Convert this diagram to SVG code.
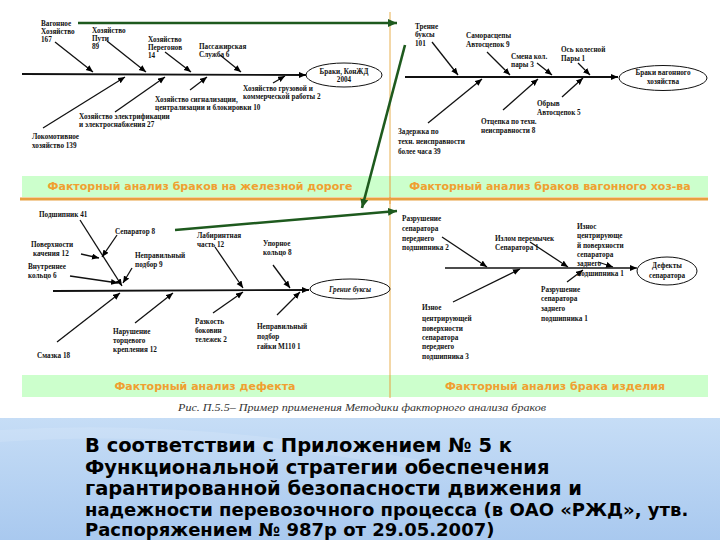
<svg xmlns="http://www.w3.org/2000/svg" width="720" height="540" viewBox="0 0 720 540">
<defs>
<linearGradient id="blue" x1="0" y1="0" x2="0" y2="1">
<stop offset="0" stop-color="#c6ddf6"/>
<stop offset="1" stop-color="#a9c9ef"/>
</linearGradient>
<marker id="ah" markerUnits="userSpaceOnUse" markerWidth="8" markerHeight="7" refX="7" refY="3" orient="auto">
<path d="M0,0 L7,3 L0,6 z" fill="#000"/>
</marker>
<marker id="gh" markerUnits="userSpaceOnUse" markerWidth="10" markerHeight="9" refX="9" refY="4" orient="auto">
<path d="M0,0 L9,4 L0,8 z" fill="#1e5a1e"/>
</marker>
</defs>
<style>
.lb{font-family:"Liberation Serif",serif;font-size:7.2px;font-weight:bold;fill:#111}
.el{font-family:"Liberation Serif",serif;font-size:7.2px;font-weight:bold;fill:#111;text-anchor:middle}
.ln{stroke:#111;stroke-width:1.3;fill:none;marker-end:url(#ah)}
.sp{stroke:#111;stroke-width:1.8;fill:none;marker-end:url(#ah)}
.spn{stroke:#111;stroke-width:1.4;fill:none}
.ov{fill:#fff;stroke:#111;stroke-width:1}
.gl{stroke:#1e5a1e;stroke-width:2.6;fill:none;marker-end:url(#gh)}
.band{fill:#ccffcc}
.bt{font-family:"DejaVu Sans",sans-serif;font-weight:bold;font-size:11px;fill:#f0a030;text-anchor:middle}
.big{font-family:"DejaVu Sans",sans-serif;font-weight:bold;fill:#000}
</style>
<rect x="0" y="0" width="720" height="540" fill="#fff"/>
<rect x="0" y="418" width="720" height="122" fill="url(#blue)"/>
<path d="M0,430 Q200,418 420,460 L420,470 Q200,428 0,442 z" fill="#fff" opacity="0.12"/>

<!-- frame lines -->
<line x1="390" y1="12" x2="390" y2="398" stroke="#e8b050" stroke-width="1"/>
<rect class="band" x="22" y="176" width="686" height="21"/>
<line x1="20" y1="199" x2="708" y2="199" stroke="#e8a040" stroke-width="3"/>
<line x1="390" y1="176" x2="390" y2="204" stroke="#e8a040" stroke-width="1"/>
<text class="bt" x="200" y="190">Факторный анализ браков на железной дороге</text>
<text class="bt" x="550" y="190">Факторный анализ браков вагонного хоз-ва</text>
<rect class="band" x="22" y="375" width="686" height="22"/>
<line x1="390" y1="375" x2="390" y2="397" stroke="#e8a040" stroke-width="1"/>
<text class="bt" x="205" y="390">Факторный анализ дефекта</text>
<text class="bt" x="555" y="390">Факторный анализ брака изделия</text>
<text x="362" y="411" font-family="Liberation Serif, serif" font-style="italic" font-size="10px" fill="#333" text-anchor="middle" textLength="368" lengthAdjust="spacingAndGlyphs">Рис. П.5.5– Пример применения Методики факторного анализа браков</text>

<!-- connectors -->
<g id="connectors">
<!-- top-left -->
<line class="sp" x1="22" y1="74" x2="306" y2="75"/>
<line class="ln" x1="55" y1="42" x2="93" y2="72"/>
<line class="ln" x1="107" y1="41" x2="146" y2="72"/>
<line class="ln" x1="165" y1="52" x2="191" y2="72"/>
<line class="ln" x1="220" y1="55" x2="241" y2="72"/>
<line class="ln" x1="43" y1="128" x2="125" y2="77"/>
<line class="ln" x1="115" y1="112" x2="165" y2="77"/>
<line class="ln" x1="190" y1="90" x2="207" y2="77"/>
<line class="ln" x1="273" y1="83" x2="285" y2="76"/>
<!-- top-right -->
<line class="sp" x1="405" y1="77" x2="618" y2="77"/>
<line class="ln" x1="432" y1="42" x2="458" y2="75"/>
<line class="ln" x1="487" y1="52" x2="510" y2="75"/>
<line class="ln" x1="537" y1="63" x2="552" y2="75"/>
<line class="ln" x1="578" y1="63" x2="590" y2="75"/>
<line class="ln" x1="428" y1="123" x2="482" y2="79"/>
<line class="ln" x1="503" y1="110" x2="538" y2="79"/>
<line class="ln" x1="562" y1="97" x2="583" y2="78"/>
<!-- bottom-left -->
<line class="sp" x1="53" y1="291" x2="309" y2="290"/>
<line class="ln" x1="80" y1="220" x2="122" y2="286"/>
<line class="ln" x1="117" y1="235" x2="102" y2="257"/>
<line class="ln" x1="81" y1="254" x2="99" y2="258"/>
<line class="ln" x1="70" y1="276" x2="118" y2="283"/>
<line class="ln" x1="132" y1="268" x2="123" y2="283"/>
<line class="ln" x1="215" y1="247" x2="243" y2="288"/>
<line class="ln" x1="273" y1="265" x2="290" y2="288"/>
<line class="ln" x1="57" y1="342" x2="120" y2="293"/>
<line class="ln" x1="135" y1="323" x2="173" y2="293"/>
<line class="ln" x1="213" y1="313" x2="243" y2="292"/>
<line class="ln" x1="277" y1="315" x2="300" y2="292"/>
<!-- bottom-right -->
<line class="spn" x1="445" y1="268" x2="630" y2="268"/>
<line class="ln" x1="630" y1="268" x2="637" y2="268"/>
<line class="ln" x1="442" y1="237" x2="487" y2="267"/>
<line class="ln" x1="530" y1="242" x2="568" y2="267"/>
<line class="ln" x1="598" y1="262" x2="613" y2="267"/>
<line class="ln" x1="453" y1="302" x2="520" y2="269"/>
<line class="ln" x1="567" y1="282" x2="583" y2="270"/>
<!-- green links -->
<line class="gl" x1="78" y1="23" x2="397" y2="23"/>
<line class="gl" x1="405" y1="45" x2="362" y2="208"/>
<line class="gl" x1="175" y1="230" x2="397" y2="211"/>
</g>

<!-- top-left panel -->
<g id="effect-tl"><ellipse class="ov" cx="344" cy="75" rx="38" ry="12"/><text class="el" x="344" y="74">Браки, КонЖД</text><text class="el" x="344" y="82">2004</text></g>
<g id="n-vagon"><text class="lb" x="41" y="26">Вагонное</text><text class="lb" x="41" y="34">Хозяйство</text><text class="lb" x="41" y="42">167</text></g>
<g id="n-put"><text class="lb" x="92" y="33">Хозяйство</text><text class="lb" x="92" y="41">Пути</text><text class="lb" x="92" y="49">89</text></g>
<g id="n-pereg"><text class="lb" x="148" y="42">Хозяйство</text><text class="lb" x="148" y="50">Перегонов</text><text class="lb" x="148" y="58">14</text></g>
<g id="n-pass"><text class="lb" x="199" y="49">Пассажирская</text><text class="lb" x="199" y="57">Служба 6</text></g>
<g id="n-lok"><text class="lb" x="32" y="139">Локомотивное</text><text class="lb" x="32" y="148">хозяйство 139</text></g>
<g id="n-elektr"><text class="lb" x="79" y="119">Хозяйство электрификации</text><text class="lb" x="79" y="127">и электроснабжения 27</text></g>
<g id="n-signal"><text class="lb" x="155" y="102">Хозяйство сигнализации,</text><text class="lb" x="155" y="110">централизации и блокировки 10</text></g>
<g id="n-gruz"><text class="lb" x="243" y="91">Хозяйство грузовой и</text><text class="lb" x="243" y="99">коммерческой работы 2</text></g>

<!-- top-right panel -->
<g id="effect-tr"><ellipse class="ov" cx="663" cy="78" rx="44" ry="12.5"/><text class="el" x="663" y="75">Браки вагонного</text><text class="el" x="663" y="84">хозяйства</text></g>
<g id="n-tren"><text class="lb" x="415" y="29">Тренне</text><text class="lb" x="415" y="37">буксы</text><text class="lb" x="415" y="46">101</text></g>
<g id="n-samor"><text class="lb" x="466" y="38">Саморасцепы</text><text class="lb" x="466" y="47">Автосцепок 9</text></g>
<g id="n-smena"><text class="lb" x="511" y="59">Смена кол.</text><text class="lb" x="511" y="67">пары 3</text></g>
<g id="n-os"><text class="lb" x="561" y="52">Ось колесной</text><text class="lb" x="561" y="61">Пары 1</text></g>
<g id="n-zader"><text class="lb" x="398" y="134">Задержка по</text><text class="lb" x="398" y="144">техн. неисправности</text><text class="lb" x="398" y="154">более часа 39</text></g>
<g id="n-otcep"><text class="lb" x="481" y="124">Отцепка по техн.</text><text class="lb" x="481" y="133">неисправности 8</text></g>
<g id="n-obryv"><text class="lb" x="537" y="106">Обрыв</text><text class="lb" x="537" y="115">Автосцепок 5</text></g>

<!-- bottom-left panel -->
<g id="effect-bl"><ellipse class="ov" cx="350" cy="289" rx="40" ry="10"/><text class="el" x="350" y="292" font-style="italic">Грение буксы</text></g>
<g id="n-podsh"><text class="lb" x="39" y="217">Подшипник 41</text></g>
<g id="n-separ"><text class="lb" x="115" y="234">Сепаратор 8</text></g>
<g id="n-pov"><text class="lb" x="31" y="247">Поверхности</text><text class="lb" x="33" y="256">качения 12</text></g>
<g id="n-vnutr"><text class="lb" x="28" y="269">Внутреннее</text><text class="lb" x="28" y="278">кольцо 6</text></g>
<g id="n-nepr9"><text class="lb" x="135" y="258">Неправильный</text><text class="lb" x="135" y="267">подбор 9</text></g>
<g id="n-labir"><text class="lb" x="197" y="238">Лабиринтная</text><text class="lb" x="197" y="247">часть 12</text></g>
<g id="n-upor"><text class="lb" x="263" y="246">Упорное</text><text class="lb" x="263" y="255">кольцо 8</text></g>
<g id="n-smazka"><text class="lb" x="37" y="358">Смазка 18</text></g>
<g id="n-narush"><text class="lb" x="113" y="334">Нарушение</text><text class="lb" x="113" y="343">торцевого</text><text class="lb" x="113" y="352">крепления 12</text></g>
<g id="n-razk"><text class="lb" x="195" y="324">Разкость</text><text class="lb" x="195" y="333">боковин</text><text class="lb" x="195" y="342">тележек 2</text></g>
<g id="n-gaiki"><text class="lb" x="257" y="329">Неправильный</text><text class="lb" x="257" y="339">подбор</text><text class="lb" x="257" y="349">гайки М110 1</text></g>

<!-- bottom-right panel -->
<g id="effect-br"><ellipse class="ov" cx="667" cy="271" rx="30" ry="14"/><text class="el" x="667" y="268">Дефекты</text><text class="el" x="667" y="278">сепаратора</text></g>
<g id="n-razr2"><text class="lb" x="402" y="221">Разрушение</text><text class="lb" x="402" y="231">сепаратора</text><text class="lb" x="402" y="241">переднего</text><text class="lb" x="402" y="250">подшипника 2</text></g>
<g id="n-izlom"><text class="lb" x="495" y="241">Излом перемычек</text><text class="lb" x="495" y="250">Сепаратора 1</text></g>
<g id="n-iznos1"><text class="lb" x="577" y="229">Износ</text><text class="lb" x="577" y="238">центрирующе</text><text class="lb" x="577" y="248">й поверхности</text><text class="lb" x="577" y="257">сепаратора</text><text class="lb" x="577" y="266">заднего</text><text class="lb" x="577" y="276">подшипника 1</text></g>
<g id="n-iznos3"><text class="lb" x="422" y="310">Изное</text><text class="lb" x="422" y="321">центрирующей</text><text class="lb" x="422" y="331">поверхности</text><text class="lb" x="422" y="340">сепаратора</text><text class="lb" x="422" y="349">переднего</text><text class="lb" x="422" y="359">подшипника 3</text></g>
<g id="n-razr1"><text class="lb" x="541" y="292">Разрушение</text><text class="lb" x="541" y="301">сепаратора</text><text class="lb" x="541" y="311">заднего</text><text class="lb" x="541" y="321">подшипника 1</text></g>

<!-- bottom text -->
<g id="caption-text">
<text class="big" x="85" y="452" font-size="19.5px">В соответствии с Приложением № 5 к</text>
<text class="big" x="85" y="474" font-size="19.5px">Функциональной стратегии обеспечения</text>
<text class="big" x="85" y="495" font-size="19.5px">гарантированной безопасности движения и</text>
<text class="big" x="85" y="516" font-size="18px">надежности перевозочного процесса (в ОАО «РЖД», утв.</text>
<text class="big" x="85" y="536" font-size="18px">Распоряжением № 987р от 29.05.2007)</text>
</g>
</svg>
